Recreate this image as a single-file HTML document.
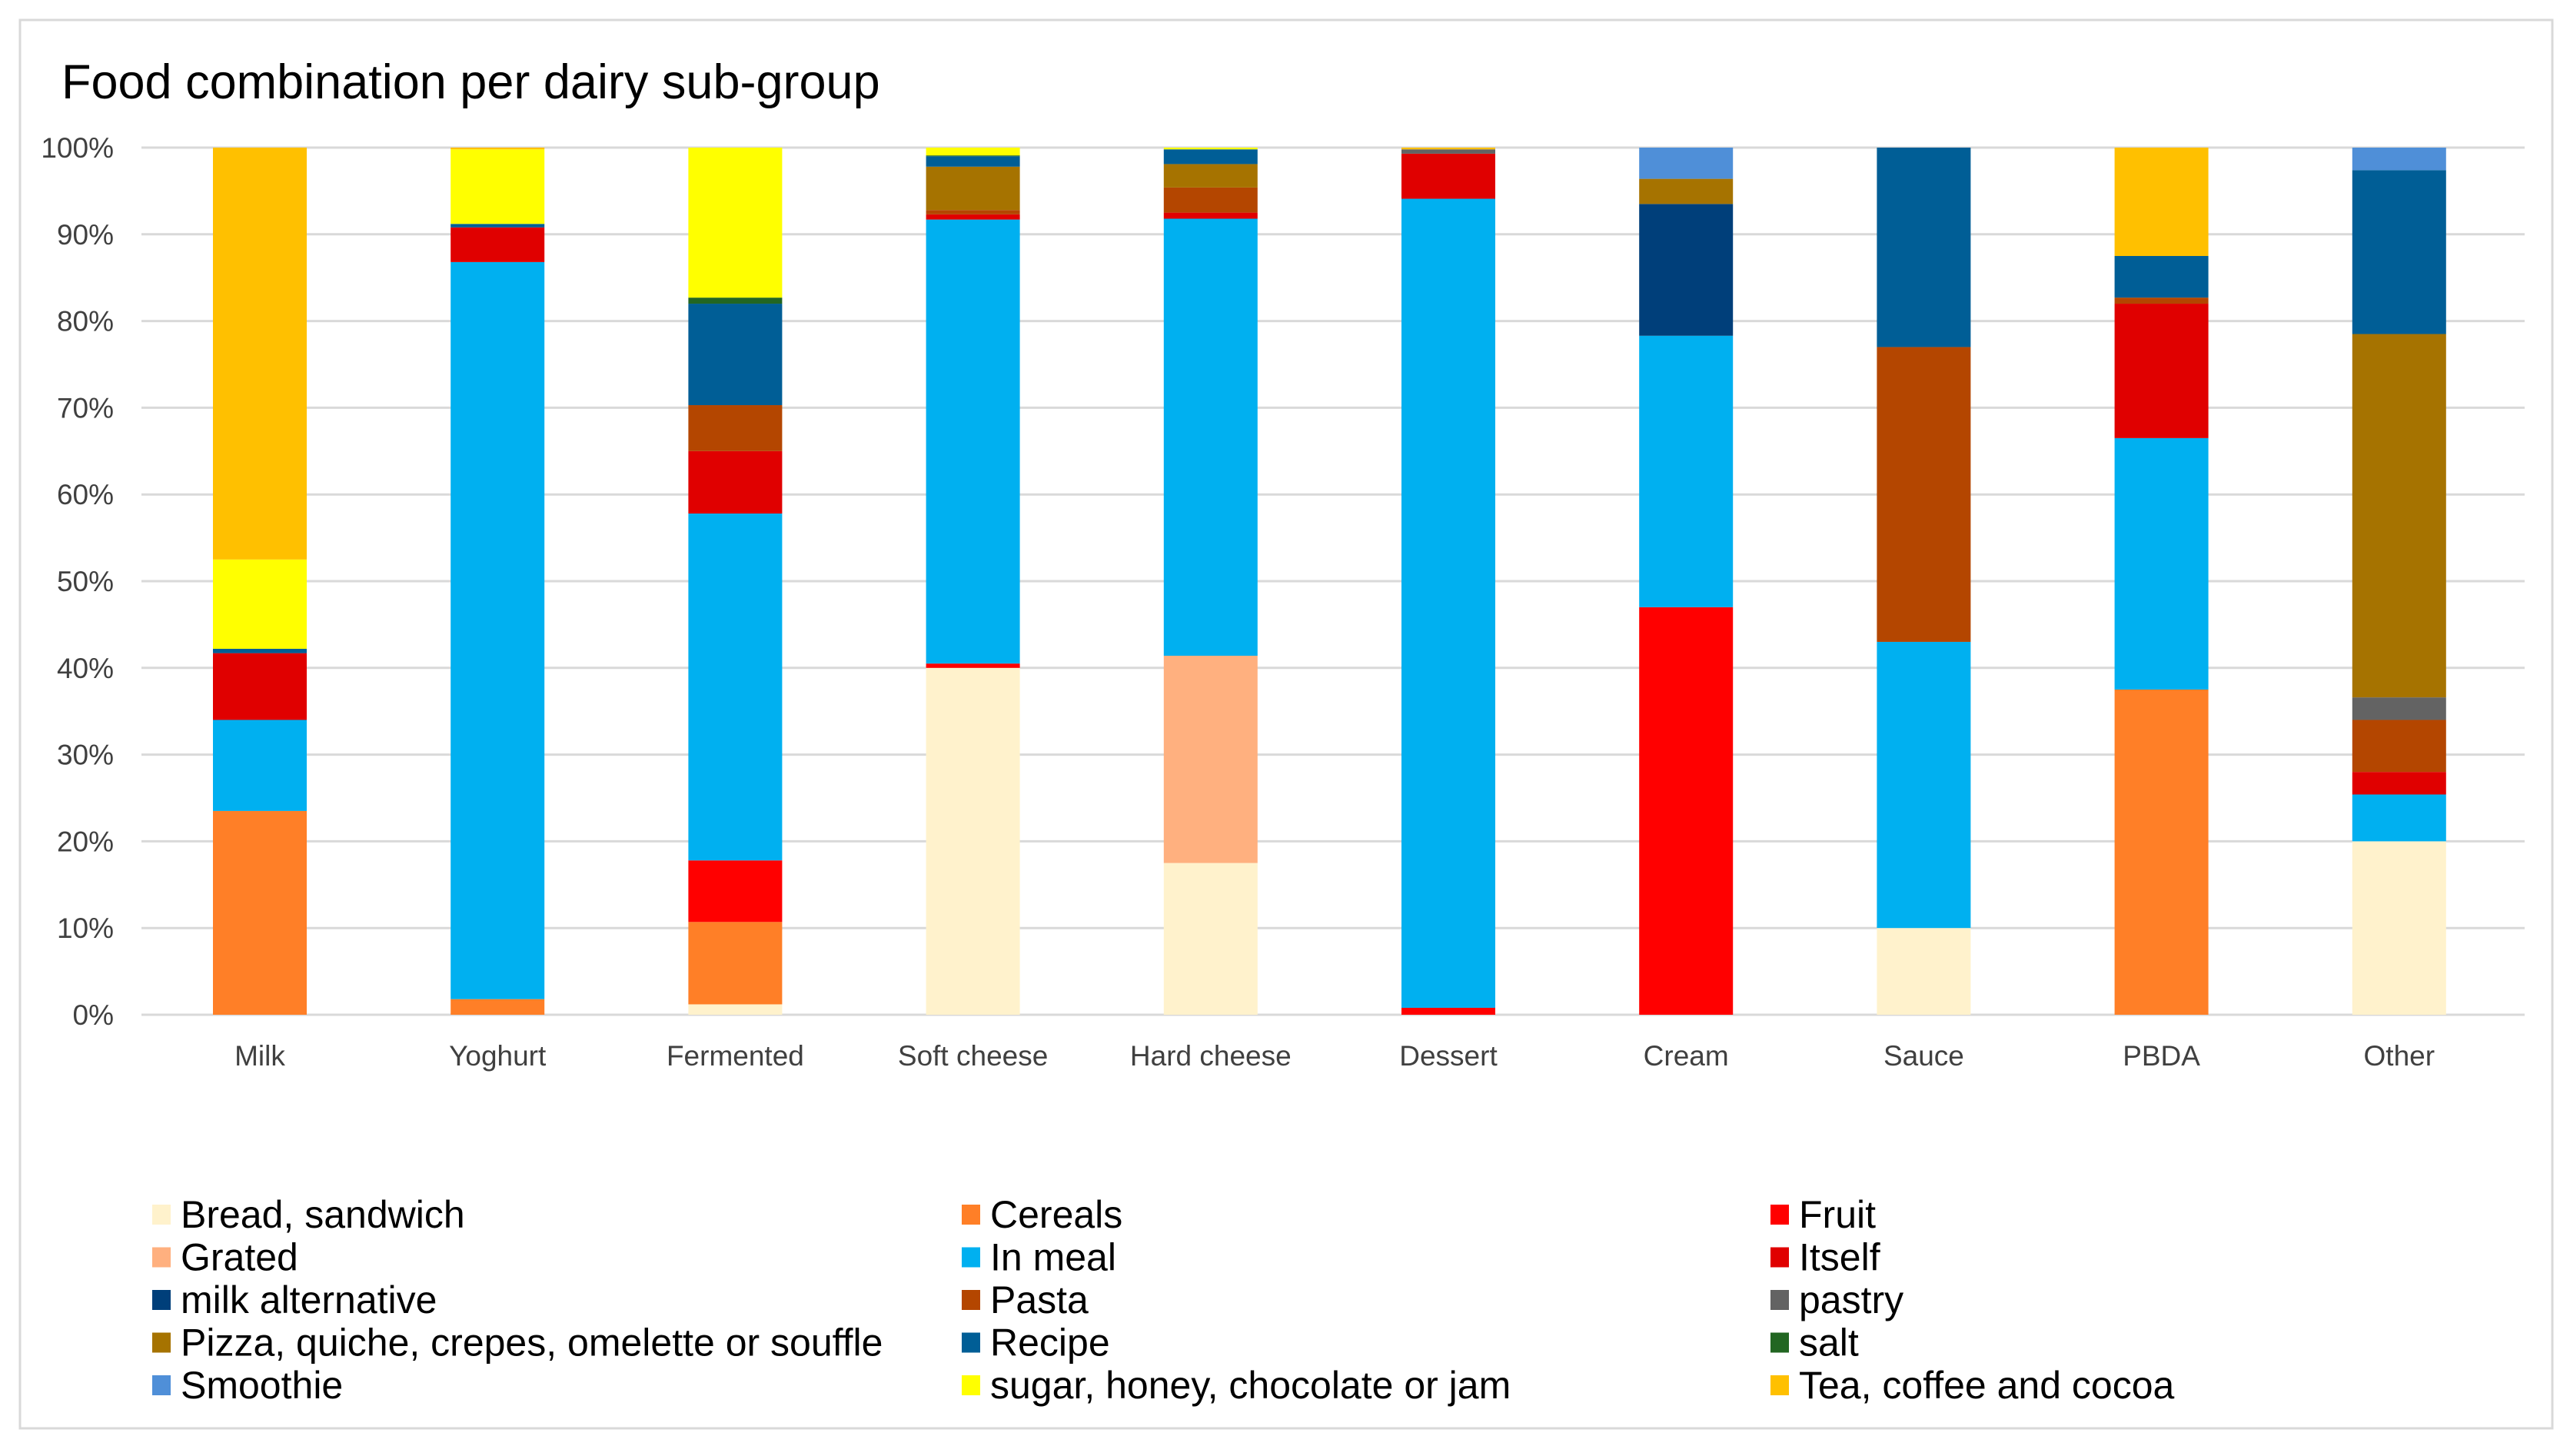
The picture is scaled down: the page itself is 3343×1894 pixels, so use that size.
<!DOCTYPE html>
<html><head><meta charset="utf-8"><style>
html,body{margin:0;padding:0;background:#fff;}
svg{display:block;font-family:"Liberation Sans",Arial,sans-serif;}
</style></head><body>
<svg id="chart" width="3343" height="1894" viewBox="0 0 3343 1894">
<rect x="26" y="26" width="3294" height="1832" fill="#fff" stroke="#d9d9d9" stroke-width="3"/>
<text x="80" y="128" font-size="63" fill="#000">Food combination per dairy sub-group</text>
<g id="grid"></g><g id="bars"></g><g id="axes"></g><g id="legend"></g>
</svg>
<script>
const categories=["Milk","Yoghurt","Fermented","Soft cheese","Hard cheese","Dessert","Cream","Sauce","PBDA","Other"];
const seriesNames=["Bread, sandwich","Cereals","Fruit","Grated","In meal","Itself","milk alternative","Pasta","pastry","Pizza, quiche, crepes, omelette or souffle","Recipe","salt","Smoothie","sugar, honey, chocolate or jam","Tea, coffee and cocoa"];
const seriesColors=["#FFF2CC","#FF7F27","#FF0000","#FFB07F","#00B0F0","#E00000","#003F7A","#B44600","#636363","#A67300","#005E96","#226622","#4F8FD8","#FFFF00","#FFC000"];
const breadVals=[0,0,1.2,40,17.5,0,0,10,0,20];
const cerealsVals=[23.5,1.8,9.5,0,0,0,0,0,37.5,0];
const fruitVals=[0,0,7.1,0.5,0,0.8,47,0,0,0];
const gratedVals=[0,0,0,0,23.9,0,0,0,0,0];
const inMealVals=[10.5,85,40,51.2,50.4,93.3,31.3,33,29,5.4];
const itselfVals=[7.7,4,7.2,0.6,0.7,5.2,0,0,15.5,2.6];
const milkAltVals=[0,0,0,0,0,0,15.2,0,0,0];
const pastaVals=[0,0,5.3,0.5,2.9,0,0,34,0.7,6];
const pastryVals=[0,0,0,0,0,0.5,0,0,0,2.6];
const pizzaVals=[0,0,0,5,2.7,0,2.9,0,0,41.9];
const recipeVals=[0.5,0.4,11.7,1.2,1.7,0,0,23,4.8,18.9];
const saltVals=[0,0,0.7,0.1,0,0,0,0,0,0];
const smoothieVals=[0,0,0,0,0,0,3.6,0,0,2.6];
const sugarVals=[10.3,8.6,17.3,0.9,0.2,0,0,0,0,0];
const teaVals=[47.5,0.2,0,0,0,0.2,0,0,12.5,0];
const allSeries=[breadVals,cerealsVals,fruitVals,gratedVals,inMealVals,itselfVals,milkAltVals,pastaVals,pastryVals,pizzaVals,recipeVals,saltVals,smoothieVals,sugarVals,teaVals];
const yTicks=[0,10,20,30,40,50,60,70,80,90,100];
const yTickLabels=["0%","10%","20%","30%","40%","50%","60%","70%","80%","90%","100%"];

const NS="http://www.w3.org/2000/svg";
const plotL=184,plotR=3284,plotT=192,plotB=1320;
const band=309.2, firstCenter=338, barW=122;
function yScale(v){return plotB-(v/100)*(plotB-plotT);}
function xCenter(i){return firstCenter+band*i;}
function mk(tag,attrs,parent){const e=document.createElementNS(NS,tag);for(const k in attrs)e.setAttribute(k,attrs[k]);parent.appendChild(e);return e;}

const grid=document.getElementById('grid'),bars=document.getElementById('bars'),axes=document.getElementById('axes'),legend=document.getElementById('legend');
yTicks.forEach((t,i)=>{
  const l=mk('line',{x1:plotL,x2:plotR,y1:yScale(t),y2:yScale(t),stroke:'#d9d9d9','stroke-width':3},grid);
  
  
  const tx=mk('text',{x:148,y:yScale(t)+13,'font-size':37,'text-anchor':'end',fill:'#404040'},axes);
  tx.textContent=yTickLabels[i];
  
  
});
categories.forEach((c,ci)=>{
  let cum=0;
  allSeries.forEach((s,si)=>{
    const v=s[ci]; if(!v) return;
    const y1=yScale(cum+v), y0=yScale(cum);
    const r=mk('rect',{x:xCenter(ci)-barW/2,y:y1,width:barW,height:y0-y1,fill:seriesColors[si]},bars);
    
    
    cum+=v;
  });
  const tx=mk('text',{x:xCenter(ci),y:1386,'font-size':37,'text-anchor':'middle',fill:'#404040'},axes);
  tx.textContent=c;
  
  
});
const colX=[198,1251,2303];
seriesNames.forEach((n,i)=>{
  const col=i%3,row=Math.floor(i/3);
  const by=1597+row*55.5;
  const g=mk('g',{},legend);
  
  
  mk('rect',{x:colX[col],y:by-30,width:24,height:26,fill:seriesColors[i]},g);
  const t=mk('text',{x:colX[col]+37,y:by,'font-size':50,fill:'#000'},g);
  t.textContent=n;
});
</script>
</body></html>
